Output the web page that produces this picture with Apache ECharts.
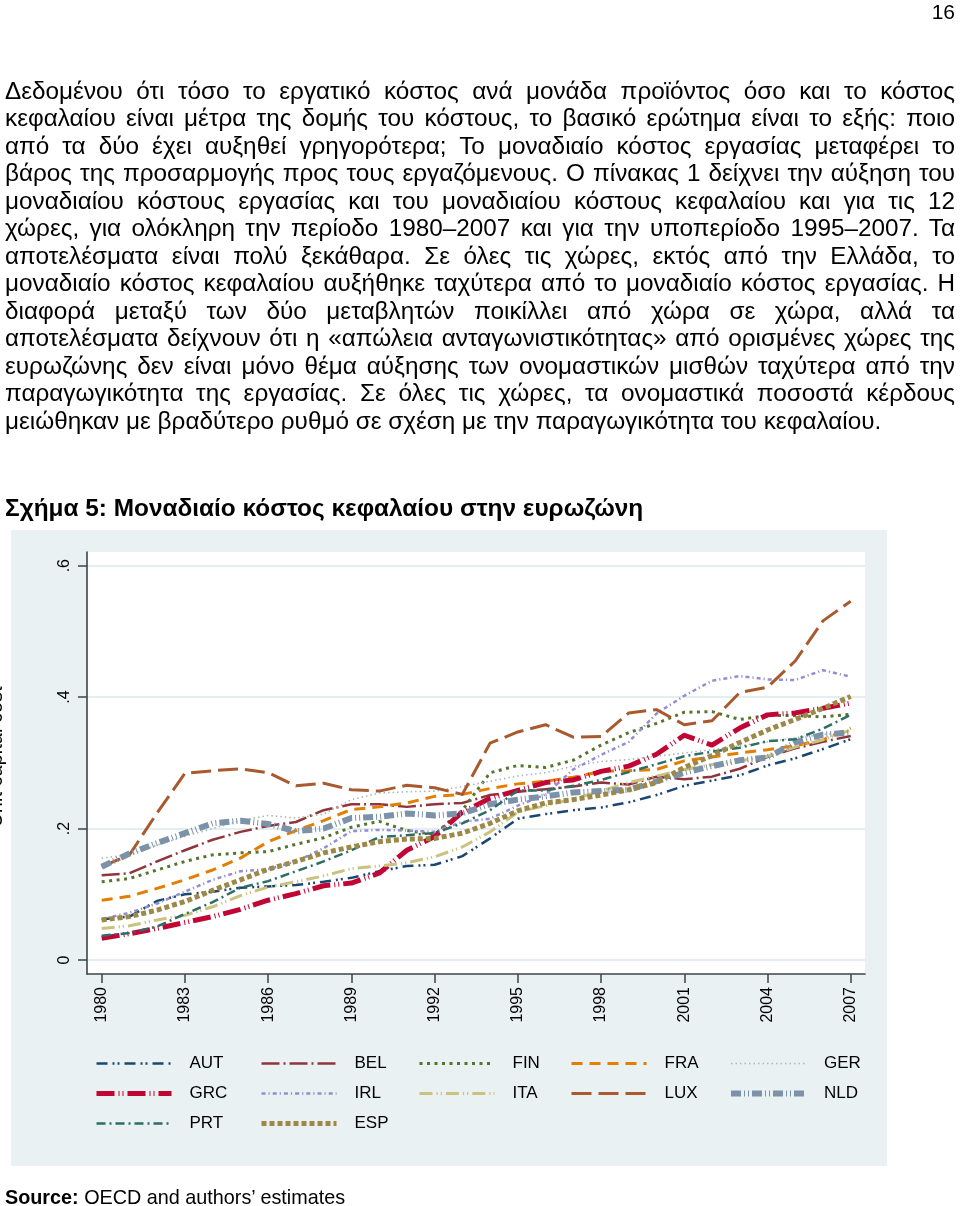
<!DOCTYPE html>
<html><head><meta charset="utf-8">
<script src="https://cdn.jsdelivr.net/npm/echarts@6/dist/echarts.min.js"></script>
<style>
html,body{margin:0;padding:0;background:#fff;}
body{width:960px;height:1206px;position:relative;overflow:hidden;font-family:"Liberation Sans",Arial,sans-serif;color:#000;}
#chart{position:absolute;left:0;top:0;width:960px;height:1206px;z-index:1;}
.t{position:absolute;z-index:2;white-space:nowrap;}
.ln{position:absolute;left:5px;width:950px;font-size:24.3px;line-height:27.5px;height:27.5px;overflow:hidden;text-align:justify;text-align-last:justify;white-space:normal;z-index:2;}
.ln.last{text-align-last:left;}
</style></head>
<body>
<div class="t" style="right:5px;top:0px;font-size:21px;line-height:24px;">16</div>
<div id="para"></div>
<div class="t" style="left:5px;top:493.5px;font-size:24.4px;line-height:28px;font-weight:bold;">Σχήμα 5: Μοναδιαίο κόστος κεφαλαίου στην ευρωζώνη</div>
<div class="t" style="left:5px;top:1185px;font-size:19.8px;line-height:24px;"><b>Source:</b> OECD and authors’ estimates</div>
<div id="chart"></div>
<script>
// ---- paragraph lines ----
const paraLines = [
"Δεδομένου ότι τόσο το εργατικό κόστος ανά μονάδα προϊόντος όσο και το κόστος",
"κεφαλαίου είναι μέτρα της δομής του κόστους, το βασικό ερώτημα είναι το εξής: ποιο",
"από τα δύο έχει αυξηθεί γρηγορότερα; Το μοναδιαίο κόστος εργασίας μεταφέρει το",
"βάρος της προσαρμογής προς τους εργαζόμενους. Ο πίνακας 1 δείχνει την αύξηση του",
"μοναδιαίου κόστους εργασίας και του μοναδιαίου κόστους κεφαλαίου και για τις 12",
"χώρες, για ολόκληρη την περίοδο 1980–2007 και για την υποπερίοδο 1995–2007. Τα",
"αποτελέσματα είναι πολύ ξεκάθαρα. Σε όλες τις χώρες, εκτός από την Ελλάδα, το",
"μοναδιαίο κόστος κεφαλαίου αυξήθηκε ταχύτερα από το μοναδιαίο κόστος εργασίας. Η",
"διαφορά μεταξύ των δύο μεταβλητών ποικίλλει από χώρα σε χώρα, αλλά τα",
"αποτελέσματα δείχνουν ότι η «απώλεια ανταγωνιστικότητας» από ορισμένες χώρες της",
"ευρωζώνης δεν είναι μόνο θέμα αύξησης των ονομαστικών μισθών ταχύτερα από την",
"παραγωγικότητα της εργασίας. Σε όλες τις χώρες, τα ονομαστικά ποσοστά κέρδους",
"μειώθηκαν με βραδύτερο ρυθμό σε σχέση με την παραγωγικότητα του κεφαλαίου."
];
const para = document.getElementById('para');
paraLines.forEach((s, i) => {
  const d = document.createElement('div');
  d.className = 'ln' + (i === paraLines.length - 1 ? ' last' : '');
  d.style.top = (76.5 + 27.5 * i) + 'px';
  d.textContent = s;
  para.appendChild(d);
});

// ---- data ----
const years = [1980,1981,1982,1983,1984,1985,1986,1987,1988,1989,1990,1991,1992,1993,1994,1995,1996,1997,1998,1999,2000,2001,2002,2003,2004,2005,2006,2007];
const xTicks = [1980,1983,1986,1989,1992,1995,1998,2001,2004,2007];
const yTickLabels = ['0', '.2', '.4', '.6'];
const yAxisTitle = 'Unit capital cost';

const AUT = [0.062,0.066,0.090,0.100,0.104,0.110,0.112,0.114,0.119,0.125,0.135,0.143,0.145,0.158,0.185,0.215,0.222,0.228,0.232,0.240,0.251,0.265,0.273,0.281,0.296,0.307,0.321,0.336];
const BEL = [0.129,0.132,0.150,0.167,0.183,0.195,0.204,0.210,0.228,0.237,0.237,0.233,0.237,0.239,0.251,0.256,0.260,0.264,0.270,0.267,0.279,0.275,0.279,0.291,0.309,0.322,0.332,0.341];
const FIN = [0.119,0.124,0.137,0.150,0.160,0.163,0.165,0.176,0.186,0.202,0.211,0.197,0.191,0.228,0.285,0.296,0.293,0.304,0.327,0.346,0.360,0.377,0.378,0.366,0.372,0.372,0.370,0.374];
const FRA = [0.091,0.097,0.109,0.122,0.137,0.155,0.180,0.197,0.212,0.229,0.233,0.239,0.249,0.252,0.261,0.268,0.272,0.278,0.287,0.288,0.290,0.303,0.309,0.315,0.320,0.326,0.335,0.353];
const GER = [0.155,0.160,0.175,0.188,0.200,0.212,0.220,0.216,0.222,0.244,0.254,0.256,0.257,0.264,0.272,0.280,0.285,0.295,0.302,0.305,0.310,0.315,0.320,0.326,0.332,0.338,0.343,0.348];
const GRC = [0.033,0.040,0.048,0.057,0.066,0.077,0.091,0.101,0.113,0.117,0.132,0.167,0.188,0.225,0.246,0.258,0.270,0.274,0.287,0.295,0.313,0.342,0.327,0.353,0.373,0.376,0.383,0.391];
const IRL = [0.062,0.072,0.086,0.104,0.122,0.135,0.138,0.150,0.170,0.196,0.198,0.197,0.195,0.210,0.215,0.235,0.252,0.290,0.312,0.332,0.375,0.402,0.425,0.432,0.427,0.426,0.441,0.431];
const ITA = [0.048,0.052,0.061,0.068,0.081,0.098,0.111,0.119,0.128,0.139,0.143,0.148,0.157,0.172,0.195,0.225,0.235,0.245,0.257,0.270,0.280,0.290,0.297,0.303,0.310,0.324,0.335,0.350];
const LUX = [0.142,0.160,0.224,0.284,0.288,0.291,0.285,0.265,0.269,0.259,0.257,0.266,0.262,0.252,0.330,0.347,0.358,0.339,0.340,0.376,0.381,0.358,0.364,0.407,0.415,0.455,0.516,0.546];
const NLD = [0.142,0.162,0.178,0.193,0.208,0.212,0.207,0.196,0.200,0.216,0.218,0.223,0.220,0.223,0.237,0.244,0.249,0.255,0.257,0.259,0.272,0.285,0.295,0.304,0.308,0.331,0.343,0.346];
const PRT = [0.037,0.041,0.051,0.070,0.088,0.110,0.120,0.135,0.150,0.167,0.187,0.190,0.193,0.208,0.228,0.258,0.258,0.265,0.274,0.286,0.298,0.310,0.317,0.323,0.333,0.336,0.352,0.373];
const ESP = [0.061,0.066,0.076,0.089,0.106,0.122,0.138,0.150,0.163,0.172,0.180,0.184,0.185,0.193,0.208,0.227,0.239,0.244,0.251,0.259,0.270,0.293,0.311,0.331,0.350,0.366,0.383,0.401];

const countries = ['AUT','BEL','FIN','FRA','GER','GRC','IRL','ITA','LUX','NLD','PRT','ESP'];
const seriesValues = {AUT,BEL,FIN,FRA,GER,GRC,IRL,ITA,LUX,NLD,PRT,ESP};

// ---- styles ----
const lineStyles = {
  AUT: {color:'#1a476f', width:2.5, type:[11,5,2,3,2,5]},
  BEL: {color:'#90353b', width:2.5, type:[18,4,2,4]},
  FIN: {color:'#55752f', width:3,   type:[3,4.5]},
  FRA: {color:'#e37e00', width:3,   type:[11,7]},
  GER: {color:'#a9b9b5', width:1.6, type:[1.5,3]},
  GRC: {color:'#c10534', width:5,   type:[18,4,1,3,1,4]},
  IRL: {color:'#938dd2', width:2.5, type:[4,3,1.2,3]},
  ITA: {color:'#cac27e', width:3,   type:[13,4,1.2,3,1.2,4]},
  LUX: {color:'#a85a2e', width:3,   type:[20,7]},
  NLD: {color:'#7b92a8', width:6,   type:[10,3,1,3,1,3]},
  PRT: {color:'#2d6d66', width:2.5, type:[9,4,2,4]},
  ESP: {color:'#9c8847', width:5,   type:[5,3]}
};
const legendColumns = [
  {left:94,  items:['AUT','GRC','PRT']},
  {left:259, items:['BEL','IRL','ESP']},
  {left:418, items:['FIN','ITA']},
  {left:570, items:['FRA','LUX']},
  {left:728, items:['GER','NLD']}
];

const FONT = '"Liberation Sans", Arial, sans-serif';
const AXIS_COLOR = '#3d4449';
const chart = echarts.init(document.getElementById('chart'), null, {renderer:'canvas'});

const series = countries.map(c => ({
  name: c,
  type: 'line',
  xAxisIndex: 0, yAxisIndex: 0,
  data: years.map((y, i) => [y, seriesValues[c][i]]),
  symbol: 'none', showSymbol: false,
  lineStyle: {color: lineStyles[c].color, width: lineStyles[c].width, type: lineStyles[c].type, cap:'butt', join:'round'},
  itemStyle: {color: lineStyles[c].color},
  emphasis: {disabled: true},
  animation: false,
  z: 3
}));

const legends = legendColumns.map(col => ({
  left: col.left, top: 1055, orient: 'vertical', padding: 0,
  itemWidth: 75, itemHeight: 14, itemGap: 13,
  selectedMode: false,
  data: col.items,
  textStyle: {fontFamily: FONT, fontSize: 17, color: '#000', padding: [0,0,0,13]},
  lineStyle: {width: 'inherit', type: 'inherit'},
  itemStyle: {opacity: 0}
}));

const option = {
  animation: false,
  backgroundColor: 'transparent',
  graphic: [
    {type:'rect', shape:{x:11, y:530, width:876, height:636}, style:{fill:'#eaf1f3'}, z:-100, silent:true},
    {type:'text', x:-4, y:757, rotation:Math.PI/2, z:5,
     style:{text:yAxisTitle, font:'20px ' + FONT, fill:'#000', align:'center', verticalAlign:'middle'}}
  ],
  legend: legends,
  grid: [
    {left:101.7, right:109.3, top:565.7, bottom:246, containLabel:false},
    {left:87, right:95, top:552, bottom:232, show:true, backgroundColor:'#ffffff', borderWidth:0, z:0},
    {left:87, right:95, top:565.7, bottom:246}
  ],
  xAxis: [
    {gridIndex:0, type:'value', min:1980, max:2007, interval:3, offset:14,
     axisLine:{show:false, onZero:false},
     axisTick:{show:true, length:9, lineStyle:{color:AXIS_COLOR, width:1.5}},
     axisLabel:{rotate:90, margin:13, fontFamily:FONT, fontSize:16, color:'#000',
       formatter: v => xTicks.indexOf(v) >= 0 ? String(v) : ''},
     splitLine:{show:false}},
    {gridIndex:1, type:'value', min:0, max:1,
     axisLine:{show:true, onZero:false, lineStyle:{color:AXIS_COLOR, width:1.6}},
     axisTick:{show:false}, axisLabel:{show:false}, splitLine:{show:false}},
    {gridIndex:2, type:'value', min:0, max:1, show:false}
  ],
  yAxis: [
    {gridIndex:0, type:'value', min:0, max:0.6, interval:0.2, offset:14.7,
     axisLine:{show:false, onZero:false},
     axisTick:{show:true, length:9, lineStyle:{color:AXIS_COLOR, width:1.5}},
     axisLabel:{rotate:90, margin:14, fontFamily:FONT, fontSize:16, color:'#000',
       formatter: v => yTickLabels[Math.round(v / 0.2)]},
     splitLine:{show:false}},
    {gridIndex:1, type:'value', min:0, max:1,
     axisLine:{show:true, onZero:false, lineStyle:{color:AXIS_COLOR, width:1.6}},
     axisTick:{show:false}, axisLabel:{show:false}, splitLine:{show:false}},
    {gridIndex:2, type:'value', min:0, max:0.6, interval:0.2,
     axisLine:{show:false}, axisTick:{show:false}, axisLabel:{show:false},
     splitLine:{show:true, lineStyle:{color:'#e4edf0', width:2}}}
  ],
  series: series
};
chart.setOption(option);
</script>
</body></html>
